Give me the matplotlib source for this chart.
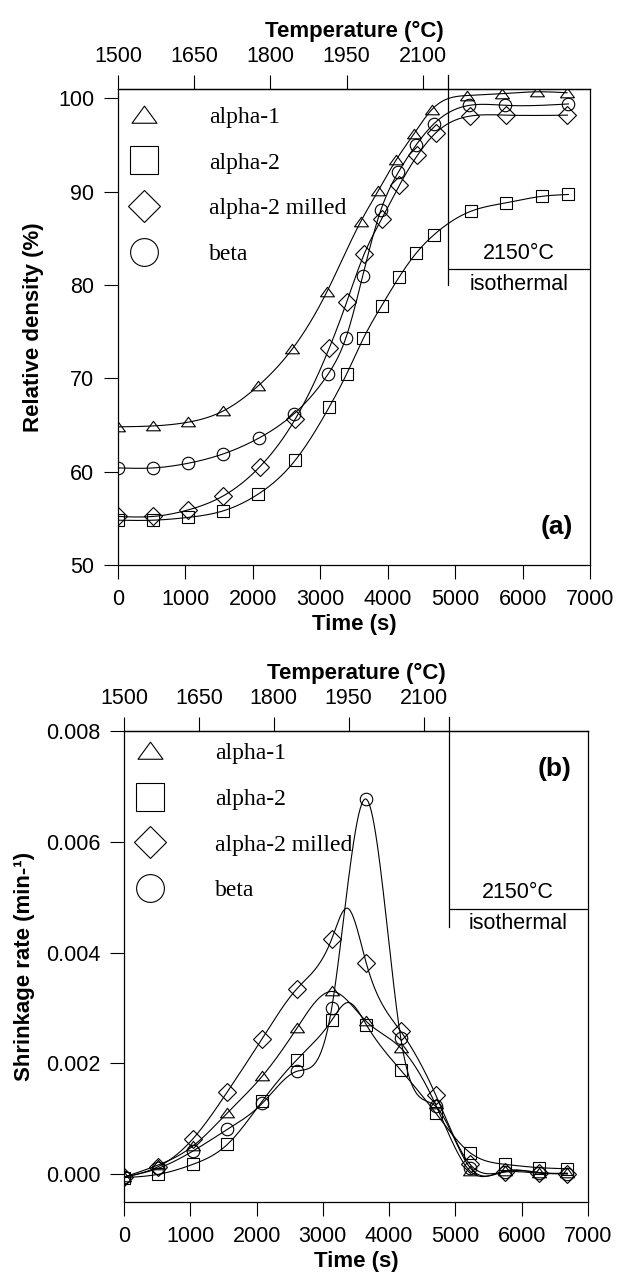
import numpy as np
import matplotlib
matplotlib.use("Agg")
import matplotlib.pyplot as plt
from matplotlib.lines import Line2D
from matplotlib.path import Path

# --- panel (a): relative density (%) vs time (s) ---
a1_t = [0, 520, 1040, 1560, 2080, 2580, 3100, 3600, 3860, 4125, 4390, 4655, 5175, 5695, 6220, 6660]
a1_v = [64.8, 64.9, 65.3, 66.5, 69.2, 73.1, 79.3, 86.8, 90.1, 93.4, 96.2, 98.8, 100.3, 100.5, 100.7, 100.6]

a2_t = [0, 520, 1040, 1560, 2080, 2626, 3131, 3393, 3640, 3912, 4174, 4421, 4689, 5233, 5752, 6286, 6681]
a2_v = [54.8, 54.8, 55.1, 55.8, 57.6, 61.2, 66.9, 70.5, 74.3, 77.8, 80.9, 83.4, 85.4, 87.9, 88.8, 89.5, 89.7]

a2m_t = [0, 520, 1040, 1560, 2100, 2626, 3131, 3393, 3650, 3912, 4174, 4441, 4713, 5223, 5757, 6666]
a2m_v = [55.2, 55.2, 55.9, 57.4, 60.5, 65.6, 73.2, 78.2, 83.3, 87.1, 90.7, 93.9, 96.3, 98.1, 98.2, 98.2]

b_t = [0, 520, 1040, 1560, 2090, 2610, 3120, 3378, 3630, 3897, 4159, 4421, 4689, 5212, 5742, 6681]
b_v = [60.4, 60.4, 60.9, 61.9, 63.6, 66.2, 70.5, 74.3, 81.0, 88.0, 92.1, 95.0, 97.3, 99.25, 99.25, 99.4]

# --- panel (b): shrinkage rate (min-1) vs time (s) ---
r_t = [0, 520, 1040, 1560, 2085, 2610, 3135, 3655, 4175, 4700, 5220, 5745, 6265, 6690]
r_a1 = [-0.00005, 0.00017, 0.00051, 0.00111, 0.00177, 0.00264, 0.0033, 0.00276, 0.00228, 0.00126, 0.00006, 0.00006, 0.00003, 0.00002]
r_a2 = [-0.00006, 0.0, 0.00018, 0.00054, 0.00132, 0.00207, 0.00278, 0.0027, 0.00188, 0.00111, 0.00039, 0.00018, 0.00012, 0.0001]
r_a2m = [-0.00005, 0.00014, 0.00064, 0.00149, 0.00245, 0.00335, 0.00425, 0.00381, 0.00258, 0.00144, 0.00018, 0.00004, 0.00002, 0.00001]
r_b = [-0.00005, 0.00011, 0.00042, 0.00081, 0.00128, 0.00186, 0.00301, 0.00677, 0.00246, 0.00123, 0.00012, 0.00005, 0.00003, 0.00001]
# curve peaks between markers
peak_a2 = (3380, 0.0031)
peak_a2m = (3375, 0.0048)

labels = ["alpha-1", "alpha-2", "alpha-2 milled", "beta"]
temp_ticks = [1500, 1650, 1800, 1950, 2100]
rate = 150 / 1130.0          # degC per s
t_iso = (2150 - 1500) / rate

TRI = Path([(-1, -0.62), (1, -0.62), (0, 0.75), (-1, -0.62)],
           [Path.MOVETO, Path.LINETO, Path.LINETO, Path.CLOSEPOLY])
markers = [TRI, "s", "D", "o"]
msizes = [10, 8.5, 9, 9]
leg_sizes = [18, 20, 16.5, 20]


def spline(x, y, n=600):
    # natural cubic spline through the points (for drawing the smooth curve)
    x = np.asarray(x, float)
    y = np.asarray(y, float)
    h = np.diff(x)
    m = len(x)
    A = np.zeros((m, m))
    r = np.zeros(m)
    A[0, 0] = A[-1, -1] = 1
    for i in range(1, m - 1):
        A[i, i - 1] = h[i - 1]
        A[i, i] = 2 * (h[i - 1] + h[i])
        A[i, i + 1] = h[i]
        r[i] = 3 * ((y[i + 1] - y[i]) / h[i] - (y[i] - y[i - 1]) / h[i - 1])
    c = np.linalg.solve(A, r)
    b = (y[1:] - y[:-1]) / h - h * (2 * c[:-1] + c[1:]) / 3
    d = (c[1:] - c[:-1]) / (3 * h)
    xs = np.linspace(x[0], x[-1], n)
    k = np.clip(np.searchsorted(x, xs) - 1, 0, m - 2)
    dx = xs - x[k]
    return xs, y[k] + b[k] * dx + c[k] * dx ** 2 + d[k] * dx ** 3


def with_peak(t, v, pk):
    pts = sorted(list(zip(t, v)) + [pk])
    return [p[0] for p in pts], [p[1] for p in pts]


plt.rcParams["font.family"] = ["Liberation Sans", "DejaVu Sans"]
fig = plt.figure(figsize=(6.17, 12.77), dpi=100)
ax1 = fig.add_axes([118 / 617, 1 - 565 / 1277, 472 / 617, 476 / 1277])
ax2 = fig.add_axes([124 / 617, 1 - 1202 / 1277, 464 / 617, 471 / 1277])


def style(ax):
    ax.set_xlim(0, 7000)
    ax.set_xticks(range(0, 7001, 1000))
    ax.tick_params(direction="out", length=10, width=0.8, labelsize=15.5, pad=7)
    for s in ax.spines.values():
        s.set_linewidth(0.9)
    ax.set_xlabel("Time (s)", fontsize=16, fontweight="bold", labelpad=3)
    sec = ax.secondary_xaxis("top", functions=(lambda t: 1500 + t * rate,
                                               lambda T: (T - 1500) / rate))
    sec.set_xticks(temp_ticks)
    sec.tick_params(direction="out", length=10, width=0.8, labelsize=15.5, pad=6)
    sec.spines["top"].set_linewidth(0.9)
    sec.set_xlabel("Temperature (\u00b0C)", fontsize=16, fontweight="bold", labelpad=6)


# panel (a)
series_a = [(a1_t, a1_v), (a2_t, a2_v), (a2m_t, a2m_v), (b_t, b_v)]
for (t, v), mk, ms in zip(series_a, markers, msizes):
    xs, ys = spline(t, v)
    ax1.plot(xs, ys, color="black", lw=0.8)
    ax1.plot(t, v, ls="none", marker=mk, ms=ms, mfc="none", mec="black", mew=0.8)
style(ax1)
ax1.set_ylim(50, 101)
ax1.set_yticks(range(50, 101, 10))
ax1.set_ylabel("Relative density (%)", fontsize=16, fontweight="bold", labelpad=10)
ax1.axvline(t_iso, ymin=(80 - 50) / 51, ymax=1.03, color="black", lw=0.9, clip_on=False)
ax1.hlines(81.7, t_iso, 7000, color="black", lw=0.9)
ax1.text((t_iso + 7000) / 2, 82.3, "2150\u00b0C", ha="center", va="bottom", fontsize=15.5)
ax1.text((t_iso + 7000) / 2, 81.2, "isothermal", ha="center", va="top", fontsize=15.5)
ax1.text(0.965, 0.055, "(a)", transform=ax1.transAxes, ha="right", va="bottom",
         fontsize=19, fontweight="bold")

# panel (b)
curves_b = [(r_t, r_a1), with_peak(r_t, r_a2, peak_a2), with_peak(r_t, r_a2m, peak_a2m), (r_t, r_b)]
marks_b = [r_a1, r_a2, r_a2m, r_b]
for (ct, cv), v, mk, ms in zip(curves_b, marks_b, markers, msizes):
    xs, ys = spline(ct, cv)
    ax2.plot(xs, ys, color="black", lw=0.8)
    ax2.plot(r_t, v, ls="none", marker=mk, ms=ms, mfc="none", mec="black", mew=0.8)
style(ax2)
ax2.set_ylim(-0.0005, 0.008)
ax2.set_yticks([0, 0.002, 0.004, 0.006, 0.008])
ax2.set_yticklabels(["0.000", "0.002", "0.004", "0.006", "0.008"])
ax2.set_ylabel("Shrinkage rate (min-\u00b9)", fontsize=16, fontweight="bold", labelpad=8)
ax2.axvline(t_iso, ymin=(0.00447 + 0.0005) / 0.0085, ymax=1.03, color="black", lw=0.9, clip_on=False)
ax2.hlines(0.00479, t_iso, 7000, color="black", lw=0.9)
ax2.text((t_iso + 7000) / 2, 0.00489, "2150\u00b0C", ha="center", va="bottom", fontsize=15.5)
ax2.text((t_iso + 7000) / 2, 0.00472, "isothermal", ha="center", va="top", fontsize=15.5)
ax2.text(0.965, 0.945, "(b)", transform=ax2.transAxes, ha="right", va="top",
         fontsize=19, fontweight="bold")

# legends
for ax, top in ((ax1, 0.963), (ax2, 0.975)):
    handles = [Line2D([], [], ls="none", marker=mk, ms=s, mfc="none", mec="black", mew=0.8)
               for mk, s in zip(markers, leg_sizes)]
    ax.legend(handles, labels, loc="upper left", bbox_to_anchor=(0.005, top),
              frameon=False, handlelength=2.0, handletextpad=1.75, labelspacing=1.02,
              borderpad=0, borderaxespad=0,
              prop={"family": "Liberation Serif", "size": 17})

fig.savefig("out.png", dpi=100)
